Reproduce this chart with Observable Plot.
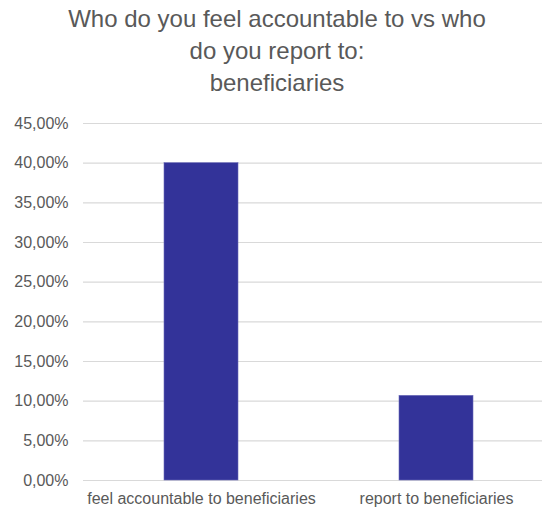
<!DOCTYPE html>
<html>
<head>
<meta charset="utf-8">
<script src="https://cdn.jsdelivr.net/npm/d3@7"></script>
<script src="https://cdn.jsdelivr.net/npm/@observablehq/plot@0.6"></script>
<style>
  html, body { margin: 0; padding: 0; background: #fff; }
  body { width: 542px; height: 508px; overflow: hidden; font-family: "Liberation Sans", Arial, sans-serif; }
  #title { height: 110px; box-sizing: border-box; padding-top: 3px; text-align: center; color: #595959; font-size: 24px; line-height: 32px; padding-left: 12px; }
</style>
</head>
<body>
<div id="title">Who do you feel accountable to vs who<br>do you report to:<br>beneficiaries</div>
<div id="chart"></div>
<script>
const categories = ["feel accountable to beneficiaries", "report to beneficiaries"];
const values = [40.0, 10.67];
const yTicks = [0, 5, 10, 15, 20, 25, 30, 35, 40, 45];

const data = categories.map((c, i) => ({category: c, value: values[i]}));
const fmt = d => d.toFixed(2).replace(".", ",") + "%";

const chart = Plot.plot({
  width: 542,
  height: 398,
  marginTop: 13,
  marginBottom: 28,
  marginLeft: 83,
  marginRight: 0,
  style: {fontFamily: "Liberation Sans, Arial, sans-serif", fontSize: "16px", color: "#595959", background: "#fff"},
  x: {domain: categories, paddingInner: 0.685, paddingOuter: 0.319, align: 0.54, label: null},
  y: {domain: [0, 45], ticks: yTicks, label: null},
  marks: [
    Plot.ruleY(yTicks, {stroke: "#d9d9d9", strokeWidth: 1.2}),
    Plot.barY(data, {x: "category", y: "value", fill: "#333399", stroke: "#6a6ab8", strokeWidth: 0.6}),
    Plot.axisY({ticks: yTicks, tickFormat: fmt, tickSize: 0, tickPadding: 15, fontSize: 16, fill: "#595959"}),
    Plot.axisX({tickSize: 0, tickPadding: 12, fontSize: 16, fill: "#595959"})
  ]
});
document.getElementById("chart").appendChild(chart);
</script>
</body>
</html>
